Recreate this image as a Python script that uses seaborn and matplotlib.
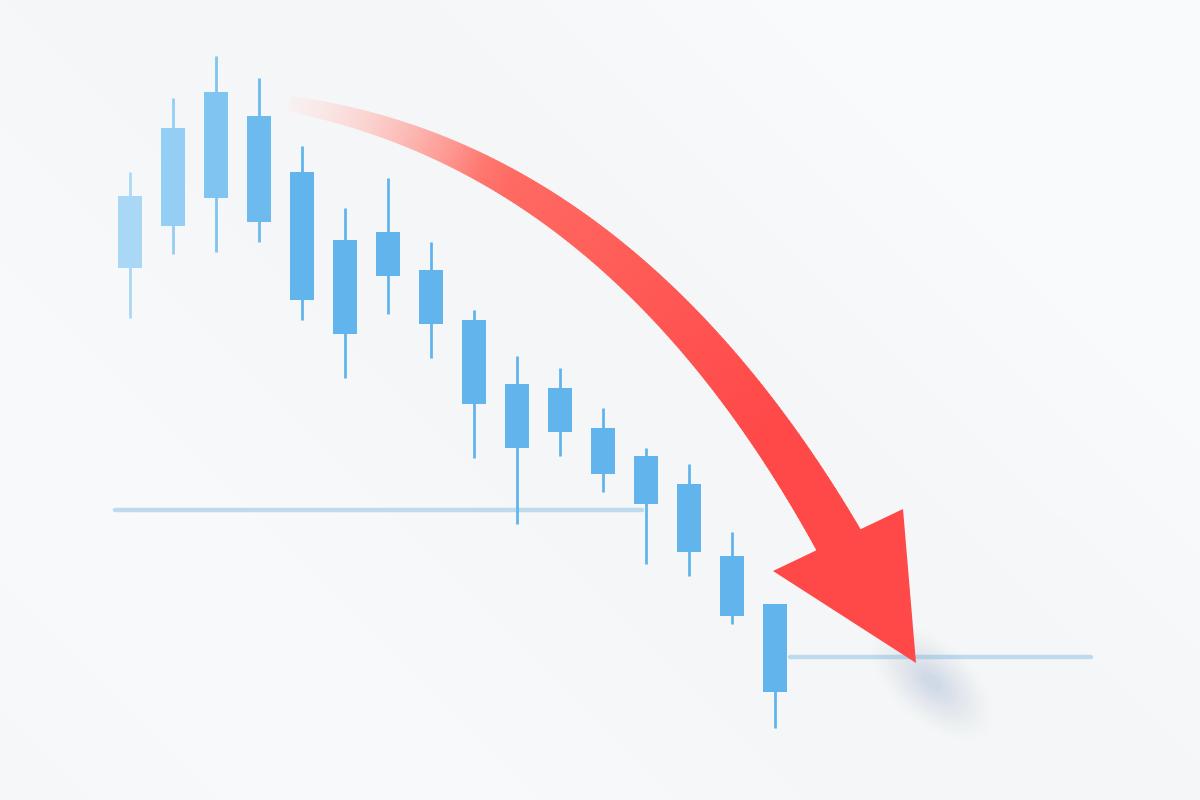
import numpy as np
import pandas as pd
import seaborn as sns
import matplotlib.pyplot as plt
from matplotlib.collections import PolyCollection
from matplotlib.patches import Ellipse
from matplotlib.colors import to_rgb

sns.set_theme(style="white")
plt.rcParams["font.family"] = ["DejaVu Sans"]

# candle data (index, open, close, high, low)
idx = list(range(16))
opens = [133.0, 143.5, 150.5, 171.0, 157.0, 140.0, 131.0, 132.5, 120.0, 104.0, 92.0, 93.0, 86.0, 79.0, 61.0, 49.0]
closes = [151.0, 168.0, 177.0, 144.5, 125.0, 116.5, 142.0, 119.0, 99.0, 88.0, 103.0, 81.5, 74.0, 62.0, 46.0, 27.0]
highs = [157.0, 175.5, 186.0, 180.5, 163.5, 148.0, 155.5, 139.5, 122.5, 111.0, 108.0, 98.0, 88.0, 84.0, 67.0, 49.0]
lows = [120.5, 136.5, 137.0, 139.5, 120.0, 105.5, 121.5, 110.5, 85.5, 69.0, 86.0, 77.0, 59.0, 56.0, 44.0, 18.0]

# support levels (price, x start, x end)
level_price = [72.5, 35.75]
level_x0 = [-0.35, 15.35]
level_x1 = [11.9, 22.35]

# arrow in pixel space: bezier control points of the shaft + head
shaft_ctrl = [(290, 104), (625, 160), (842, 546)]
shaft_width = [14, 48]
head_pts = [(773, 571), (916, 663), (903, 509)]

df = pd.DataFrame({"i": idx, "open": opens, "close": closes, "high": highs, "low": lows})
df["top"] = df[["open", "close"]].max(axis=1)
df["bot"] = df[["open", "close"]].min(axis=1)

fig = plt.figure(figsize=(12, 8), dpi=100)
bg_rgb = np.array(to_rgb("#f7f8fa"))

# background
bg = fig.add_axes([0, 0, 1, 1])
bg.set_axis_off()
yy, xx = np.mgrid[0:1:200j, 0:1:300j]
diag = xx * 0.6 + (1 - yy) * 0.4
base = 0.972 + 0.008 * np.sin(diag * 9.0) + 0.008 * diag
img = np.dstack([base - 0.008, base - 0.003, base + 0.003])
bg.imshow(np.clip(img, 0, 1), extent=[0, 1, 0, 1], aspect="auto", origin="upper")
bg.set_xlim(0, 1)
bg.set_ylim(0, 1)

ax = fig.add_axes([0, 0, 1, 1])
ax.set_facecolor("none")
ax.set_xlim(-130 / 43, 1070 / 43)
ax.set_ylim(0, 200)
ax.set_axis_off()

# support lines
for p, a, b in zip(level_price, level_x0, level_x1):
    sns.lineplot(x=[a, b], y=[p, p], ax=ax, color="#b8d7ee", linewidth=3.2, alpha=0.9)

# candles
light = np.array(to_rgb("#a9d8f7"))
dark = np.array(to_rgb("#62b5ec"))
for k, r in df.iterrows():
    t = min(1.0, k / 3.5)
    col = light * (1 - t) + dark * t
    ax.vlines(r["i"], r["low"], r["high"], color=col, linewidth=2.0, zorder=2)
    ax.bar(r["i"], r["top"] - r["bot"], bottom=r["bot"], width=0.58,
           color=col, edgecolor="none", zorder=3)

# arrow overlay in pixel coordinates
ov = fig.add_axes([0, 0, 1, 1])
ov.set_facecolor("none")
ov.set_xlim(0, 1200)
ov.set_ylim(800, 0)
ov.set_axis_off()

# soft shadow at arrow tip
for s, a in zip(np.linspace(100, 15, 16), np.linspace(0.008, 0.03, 16)):
    ov.add_patch(Ellipse((932, 682), s * 1.5, s * 0.8, angle=42,
                         color="#89aac8", alpha=a, lw=0))

P0, P1, P2 = [np.array(p, float) for p in shaft_ctrl]
t = np.linspace(0, 1, 200)
pts = ((1 - t) ** 2)[:, None] * P0 + (2 * (1 - t) * t)[:, None] * P1 + (t ** 2)[:, None] * P2
d = 2 * (1 - t)[:, None] * (P1 - P0) + 2 * t[:, None] * (P2 - P1)
d /= np.linalg.norm(d, axis=1)[:, None]
nrm = np.column_stack([-d[:, 1], d[:, 0]])
w = shaft_width[0] + (shaft_width[1] - shaft_width[0]) * t ** 0.85
left = pts + nrm * (w / 2)[:, None]
right = pts - nrm * (w / 2)[:, None]
polys, cols = [], []
c0 = np.array(to_rgb("#ffc9c0"))
cm = np.array(to_rgb("#ff6a62"))
c1 = np.array(to_rgb("#ff4848"))
for k in range(len(t) - 1):
    polys.append([left[k], left[k + 1], right[k + 1], right[k]])
    if t[k] < 0.35:
        u = t[k] / 0.35
        c = c0 * (1 - u) + cm * u
    else:
        u = min(1.0, (t[k] - 0.35) / 0.5)
        c = cm * (1 - u) + c1 * u
    alpha = 0.15 + 0.85 * min(1.0, t[k] / 0.3)
    c = bg_rgb * (1 - alpha) + c * alpha
    cols.append(tuple(c))
ov.add_collection(PolyCollection(polys, facecolors=cols, edgecolors=cols, linewidths=0.8))
ov.add_patch(plt.Polygon(head_pts, closed=True, color="#ff4848", lw=0))

fig.savefig("out.png", dpi=100)
